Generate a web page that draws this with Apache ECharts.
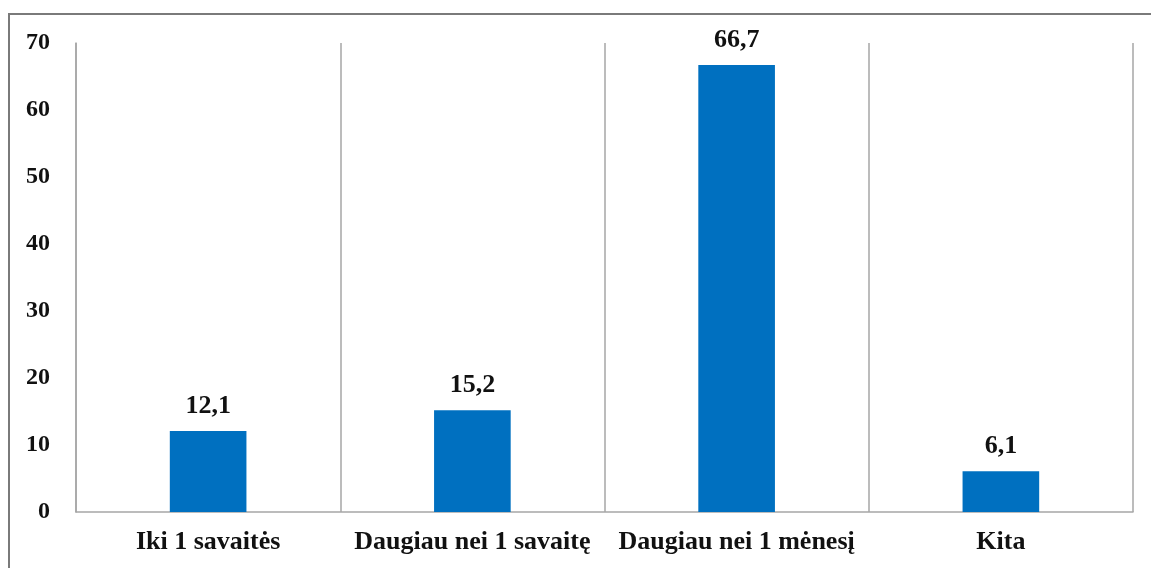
<!DOCTYPE html>
<html>
<head>
<meta charset="utf-8">
<script src="https://cdn.jsdelivr.net/npm/echarts@6/dist/echarts.min.js"></script>
<style>
  html, body { margin: 0; padding: 0; background: #fff; }
  #chart { width: 1151px; height: 568px; }
</style>
</head>
<body>
<div id="chart"></div>
<script>
const categories = ['Iki 1 savaitės', 'Daugiau nei 1 savaitę', 'Daugiau nei 1 mėnesį', 'Kita'];
const values = [12.1, 15.2, 66.7, 6.1];

const fontFamily = '"Liberation Serif", "Times New Roman", serif';
const gridGray = '#a6a6a6';

const chart = echarts.init(document.getElementById('chart'));
chart.setOption({
  animation: false,
  backgroundColor: '#ffffff',
  graphic: [{
    type: 'rect',
    shape: { x: 9, y: 14, width: 1160, height: 600 },
    style: { fill: 'none', stroke: '#7a7a7a', lineWidth: 2 },
    silent: true
  }],
  grid: { left: 76, right: 18, top: 43, bottom: 56 },
  xAxis: {
    type: 'category',
    data: categories,
    axisLine: { show: true, lineStyle: { color: gridGray, width: 1.5 } },
    axisTick: { show: false },
    splitLine: { show: true, lineStyle: { color: gridGray, width: 1.5 } },
    axisLabel: {
      color: '#111', fontFamily, fontWeight: 'bold', fontSize: 26, margin: 17,
      interval: 0
    }
  },
  yAxis: {
    type: 'value',
    min: 0, max: 70, interval: 10,
    axisLine: { show: true, lineStyle: { color: gridGray, width: 1.5 } },
    axisTick: { show: false },
    splitLine: { show: false },
    axisLabel: { color: '#111', fontFamily, fontWeight: 'bold', fontSize: 24, margin: 26 }
  },
  series: [{
    type: 'bar',
    data: values,
    barWidth: '29%',
    itemStyle: { color: '#0070c0' },
    label: {
      show: true, position: 'top', distance: 12,
      color: '#111', fontFamily, fontWeight: 'bold', fontSize: 26,
      formatter: p => String(p.value).replace('.', ',')
    }
  }]
});
</script>
</body>
</html>
